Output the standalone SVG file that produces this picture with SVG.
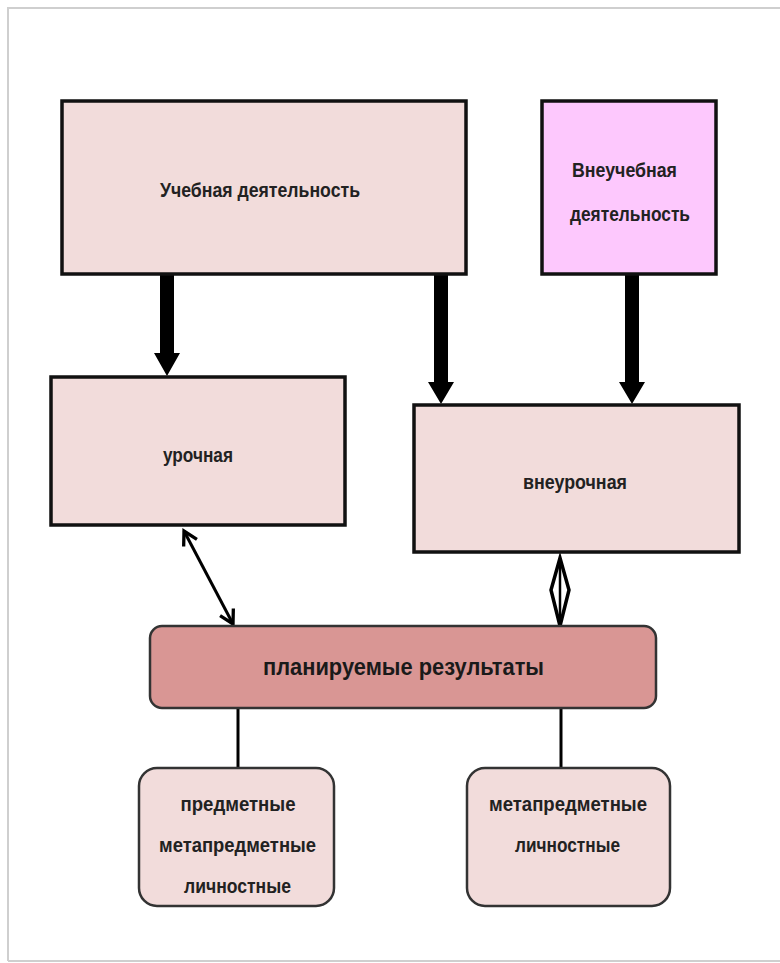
<svg xmlns="http://www.w3.org/2000/svg" width="780" height="963" viewBox="0 0 780 963">
<defs>
<style>
.box{stroke:#111;stroke-width:3.5}
.light{fill:#f2dcdb}
.pink{fill:#fdc8fd}
.rnd{fill:#f2dcdb;stroke:#333;stroke-width:2.5}
.res{fill:#d99694;stroke:#333;stroke-width:2.5}
.t{font-family:"Liberation Sans",Arial,sans-serif;font-size:21px;font-weight:bold;fill:#222;text-anchor:middle}
.tb{font-family:"Liberation Sans",Arial,sans-serif;font-size:24px;font-weight:bold;fill:#1a1a1a;text-anchor:middle}
.thick{fill:#000}
.thin{stroke:#000;stroke-width:3;fill:none}
</style>
<marker id="open" viewBox="0 0 12 12" refX="10" refY="6" markerWidth="6" markerHeight="6" orient="auto-start-reverse" markerUnits="strokeWidth">
<path d="M1,1 L10,6 L1,11" fill="none" stroke="#000" stroke-width="2.2"/>
</marker>
</defs>
<rect x="0" y="0" width="780" height="963" fill="#fff"/>
<g id="frame" fill="none" stroke="#cfcfcf" stroke-width="2">
<path d="M8,961 L8,8 L780,8"/>
<path d="M8,961 L780,961"/>
</g>
<g id="connectors">
<path class="thick" d="M160,274 L174,274 L174,353 L180,353 L167,376 L154,353 L160,353 Z"/>
<path class="thick" d="M434,274 L448,274 L448,382 L454,382 L441,404 L428,382 L434,382 Z"/>
<path class="thick" d="M625,274 L639,274 L639,382 L645,382 L632,404 L619,382 L625,382 Z"/>
<line class="thin" x1="184" y1="531" x2="233" y2="624" marker-start="url(#open)" marker-end="url(#open)"/>
<line x1="560" y1="558" x2="560" y2="626" stroke="#000" stroke-width="2.5"/>
<path d="M560,558 L569,590 L560,626 L551,590 Z" fill="none" stroke="#000" stroke-width="3.5"/>
<line x1="238" y1="708" x2="238" y2="767" stroke="#000" stroke-width="3"/>
<line x1="561" y1="708" x2="561" y2="767" stroke="#000" stroke-width="3"/>
</g>
<g id="uchebnaya">
<rect class="box light" x="62" y="101" width="404" height="173"/>
<text class="t" x="260" y="197" textLength="200" lengthAdjust="spacingAndGlyphs">Учебная  деятельность</text>
</g>
<g id="vneuchebnaya">
<rect class="box pink" x="542" y="101" width="174" height="173"/>
<text class="t" x="624.5" y="177" textLength="105" lengthAdjust="spacingAndGlyphs">Внеучебная</text>
<text class="t" x="630" y="221" textLength="120" lengthAdjust="spacingAndGlyphs">деятельность</text>
</g>
<g id="urochnaya">
<rect class="box light" x="51" y="377" width="294" height="148"/>
<text class="t" x="198" y="462" textLength="70" lengthAdjust="spacingAndGlyphs">урочная</text>
</g>
<g id="vneurochnaya">
<rect class="box light" x="414" y="405" width="325" height="147"/>
<text class="t" x="575" y="489" textLength="104" lengthAdjust="spacingAndGlyphs">внеурочная</text>
</g>
<g id="rezultaty">
<rect class="res" x="150" y="626" width="506" height="82" rx="12"/>
<text class="tb" x="403.5" y="675" textLength="281" lengthAdjust="spacingAndGlyphs">планируемые результаты</text>
</g>
<g id="left-results">
<rect class="rnd" x="139" y="768" width="195" height="138" rx="18"/>
<text class="t" x="238" y="811" textLength="115" lengthAdjust="spacingAndGlyphs">предметные</text>
<text class="t" x="237.5" y="852" textLength="157" lengthAdjust="spacingAndGlyphs">метапредметные</text>
<text class="t" x="237.5" y="893" textLength="107" lengthAdjust="spacingAndGlyphs">личностные</text>
</g>
<g id="right-results">
<rect class="rnd" x="467" y="768" width="203" height="138" rx="18"/>
<text class="t" x="568" y="811" textLength="158" lengthAdjust="spacingAndGlyphs">метапредметные</text>
<text class="t" x="567.5" y="852" textLength="105" lengthAdjust="spacingAndGlyphs">личностные</text>
</g>
</svg>
